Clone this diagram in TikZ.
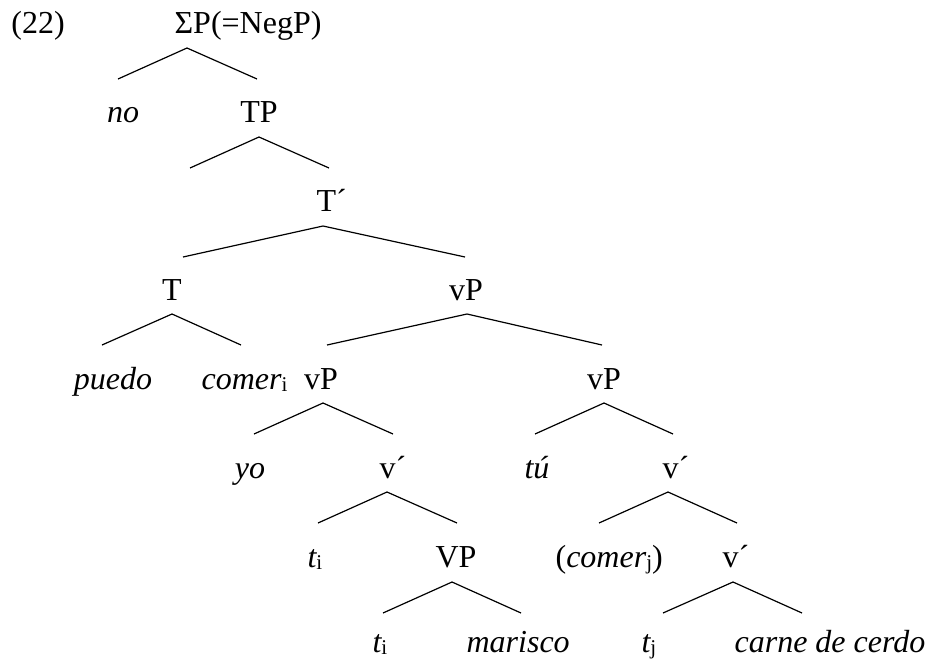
\documentclass[tikz,border=0pt]{standalone}
\usepackage{fontspec}
\setmainfont{Liberation Serif}
\newcommand\idx[1]{\raisebox{-0.2ex}{\fontsize{21}{21}\selectfont\upshape #1}}

\begin{document}
\begin{tikzpicture}[x=1pt,y=-1pt,line width=1.2pt]

\tikzstyle{cat}=[inner sep=0pt,anchor=base,font=\fontsize{32}{38}\selectfont]
\tikzstyle{catw}=[cat,anchor=base west]
\tikzstyle{word}=[cat,font=\fontsize{32}{38}\selectfont\itshape]
\tikzstyle{wordw}=[word,anchor=base west]

\useasboundingbox (0,0) rectangle (931,662);

 \node[cat] (ex) at (38,33) {(22)};
 \node[catw] (sp) at (174,33) {ΣP(=NegP)};
 \node[word] (no) at (123,122) {no};
 \node[cat] (tp) at (259,122) {TP};
 \node[catw] (tbar) at (316,211) {T´};
 \node[cat] (t) at (172,300) {T};
 \node[cat] (vp1) at (466,300) {vP};
 \node[word] (puedo) at (113,389) {puedo};
 \node[wordw] (comer) at (201,389) {comer\idx{i}};
 \node[cat] (vp2) at (321,389) {vP};
 \node[cat] (vp3) at (604,389) {vP};
 \node[word] (yo) at (250,478) {yo};
 \node[catw] (vbar1) at (379,478) {v´};
 \node[word] (tu) at (537,478) {tú};
 \node[catw] (vbar2) at (662,478) {v´};
 \node[wordw] (ti1) at (307,567) {t\idx{i}};
 \node[cat] (vpbig) at (456,567) {VP};
 \node[catw] (comerj) at (555,567) {(\textit{comer}\idx{j})};
 \node[catw] (vbar3) at (722,567) {v´};
 \node[wordw] (ti2) at (372,652) {t\idx{i}};
 \node[wordw] (marisco) at (466,652) {marisco};
 \node[wordw] (tj) at (641,652) {t\idx{j}};
 \node[wordw] (cerdo) at (734,652) {carne de cerdo};

 % branches: name/apex x/apex y/left end/right end
 \foreach \n/\x/\y/\l/\r in {sp/187/48/118/257, tp/259/137/190/329,
   tbar/323/226/183/465, t/172/314/102/241, vp1/467/314/327/602,
   vp2/323/403/254/393, vp3/604/403/535/673, vbar1/387/492/318/457,
   vbar2/668/492/599/737, vpbig/452/582/383/521, vbar3/733/582/663/802}
 {
  \coordinate (\n-top) at (\x,\y);
  \coordinate (\n-left) at (\l,\y+31);
  \coordinate (\n-right) at (\r,\y+31);
  \draw (\n-left) -- (\n-top) -- (\n-right);
 }
\end{tikzpicture}
\end{document}
